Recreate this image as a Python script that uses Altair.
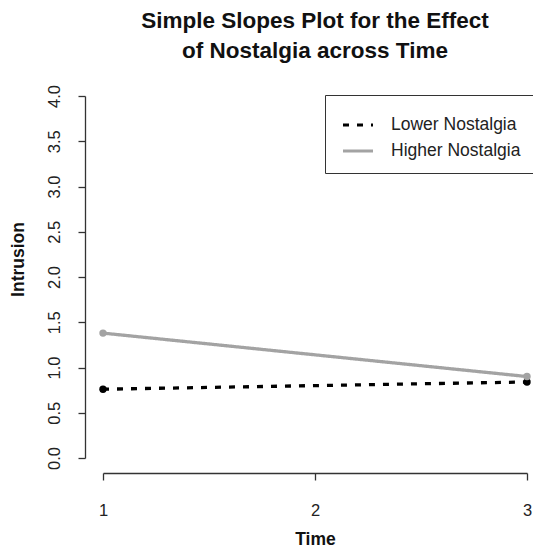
import altair as alt
import pandas as pd

times = [1, 3]
lower = [0.76, 0.84]
higher = [1.38, 0.90]
series = ["Lower Nostalgia", "Higher Nostalgia"]
colors = ["#000000", "#a3a3a3"]
dashes = [[6, 8], [1, 0]]
x_ticks = [1.0, 2.0, 3.0]
y_ticks = [0, 0.5, 1.0, 1.5, 2.0, 2.5, 3.0, 3.5, 4.0]

df = pd.DataFrame({
    "Time": times + times,
    "Intrusion": lower + higher,
    "Group": [series[0]] * len(times) + [series[1]] * len(times),
})

FONT = "Liberation Sans"
AX = "#333333"

x_enc = alt.X(
    "Time:Q",
    scale=alt.Scale(domain=[min(x_ticks), max(x_ticks)], nice=False, zero=False),
    axis=alt.Axis(values=x_ticks, offset=15, title="Time", tickCount=3,
                  labelExpr="'' + datum.value",
                  grid=False, domainColor=AX, domainWidth=1.3, tickColor=AX,
                  tickWidth=1.3, tickSize=7, labelFont=FONT, labelFontSize=16.5,
                  labelColor="#222", labelPadding=22, labelOverlap=False,
                  labelFlush=False, labelBound=False,
                  titleFont=FONT, titleFontSize=17.5, titleFontWeight="bold",
                  titleColor="#111", titlePadding=12),
)
y_enc = alt.Y(
    "Intrusion:Q",
    scale=alt.Scale(domain=[min(y_ticks), max(y_ticks)], nice=False, zero=False),
    axis=alt.Axis(values=y_ticks, format=".1f", offset=18, title="Intrusion",
                  grid=False, domainColor=AX, domainWidth=1.3, tickColor=AX,
                  tickWidth=1.3, tickSize=7, labelFont=FONT, labelFontSize=16.5,
                  labelColor="#222", labelAngle=270, labelAlign="center",
                  labelBaseline="bottom", labelPadding=16, labelOverlap=False,
                  titleFont=FONT, titleFontSize=17.5, titleFontWeight="bold",
                  titleColor="#111", titlePadding=19, titleY=163),
)

base = alt.Chart(df).encode(x=x_enc, y=y_enc)

lines = base.mark_line(strokeCap="butt").encode(
    color=alt.Color("Group:N", scale=alt.Scale(domain=series, range=colors),
                    legend=alt.Legend(title=None, orient="none", legendX=222, legendY=-1,
                                      strokeColor="#333", padding=13,
                                      symbolType="stroke", symbolSize=900,
                                      symbolOffset=3,
                                      symbolStrokeWidth=3.2, labelFont=FONT,
                                      labelFontSize=17.5, labelColor="#222",
                                      labelOffset=16, rowPadding=0,
                                      fillColor="white")),
    strokeDash=alt.StrokeDash("Group:N", scale=alt.Scale(domain=series, range=dashes),
                              legend=None),
    strokeWidth=alt.value(3.3),
)

points = base.mark_point(filled=True, opacity=1, shape="circle", size=55).encode(
    fill=alt.Fill("Group:N", scale=alt.Scale(domain=series, range=colors), legend=None),
)

chart = alt.layer(lines, points).properties(
    width=424,
    height=362,
    background="white",
    title=alt.TitleParams(
        text=["Simple Slopes Plot for the Effect", "of Nostalgia across Time"],
        font=FONT, fontSize=22.5, fontWeight="bold", color="#111",
        anchor="middle", lineHeight=30, offset=22,
    ),
    autosize=alt.AutoSizeParams(type="none"),
    padding={"left": 95, "top": 88, "right": 6, "bottom": 90},
).configure_view(strokeWidth=0)

chart.save("out.html", embed_options={"renderer": "svg", "actions": False})
